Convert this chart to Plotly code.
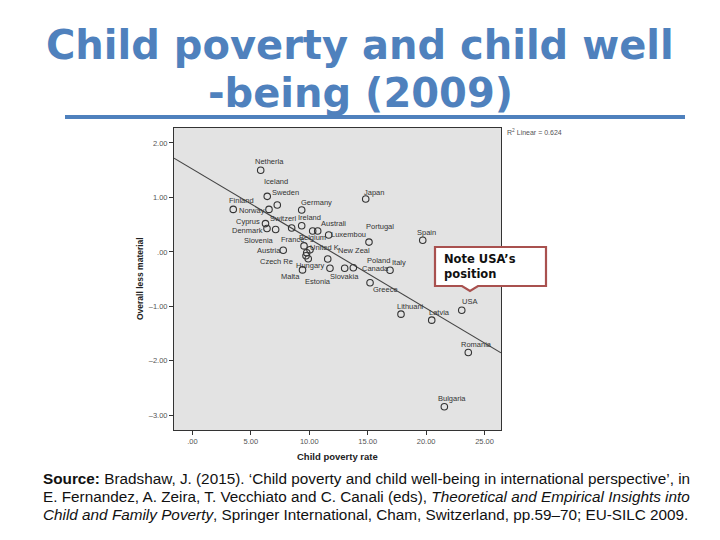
import plotly.graph_objects as go

# ---------------- data ----------------
countries = ["Netherlands", "Iceland", "Sweden", "Finland", "Norway", "Germany", "Japan",
             "Cyprus", "Denmark", "Slovenia", "Switzerland", "Ireland", "Belgium", "Australia",
             "Luxembourg", "Portugal", "Spain", "Austria", "France", "United Kingdom",
             "Czech Republic", "Estonia", "Hungary", "Malta", "New Zealand", "Slovakia",
             "Poland", "Canada", "Italy", "Greece", "Lithuania", "Latvia", "USA", "Romania",
             "Bulgaria"]
point_labels = ["Netherla", "Iceland", "Sweden", "Finland", "Norway", "Germany", "Japan",
                "Cyprus", "Denmark", "Slovenia", "Switzerl", "Ireland", "Belgium", "Australi",
                "Luxembou", "Portugal", "Spain", "Austria", "France", "United K",
                "Czech Re", "Estonia", "Hungary", "Malta", "New Zeal", "Slovakia",
                "Poland", "Canada", "Italy", "Greece", "Lithuani", "Latvia", "USA", "Romania",
                "Bulgaria"]
child_poverty_rate = [5.84, 6.40, 7.26, 3.49, 6.55, 9.35, 14.83,
                      6.25, 6.38, 7.12, 8.49, 9.35, 10.29, 10.72,
                      11.66, 15.11, 19.71, 7.77, 9.55, 10.06,
                      9.78, 9.72, 9.91, 9.42, 11.58, 11.77,
                      13.03, 13.77, 16.91, 15.20, 17.85, 20.48, 23.05, 23.61,
                      21.56]
overall_less_material = [1.50, 1.02, 0.86, 0.78, 0.78, 0.77, 0.97,
                         0.52, 0.43, 0.41, 0.44, 0.48, 0.385, 0.385,
                         0.31, 0.18, 0.215, 0.03, 0.11, 0.04,
                         -0.015, -0.07, -0.125, -0.33, -0.13, -0.30,
                         -0.30, -0.29, -0.336, -0.565, -1.143, -1.253, -1.07, -1.846,
                         -2.844]
fit_intercept = 1.52
fit_slope = -0.1277
r_squared = 0.624

x_tickvals = [0, 5, 10, 15, 20, 25]
x_ticktext = [".00", "5.00", "10.00", "15.00", "20.00", "25.00"]
y_tickvals = [2, 1, 0, -1, -2, -3]
y_ticktext = ["2.00", "1.00", ".00", "\u20131.00", "\u20132.00", "\u20133.00"]

# ---------------- styling / layout helpers ----------------
OFF = 8                                   # page body margin of the html file
W, H = 720 - OFF, 540 - OFF
PL, PR, PT, PB = 174, 501, 128, 430       # plot area in window pixels
x_range = [-1.58, 26.41]
y_range = [-3.27, 2.275]

# label offsets (pixels, right / down) relative to each point
label_offsets = [(9, -9), (9, -15), (8, -13), (8, -9), (-17, 1), (15, -7), (8, -7),
                 (-17, -2), (-19, 2), (-17, 11), (-8, -9), (8, -8), (0, 7), (16, -7),
                 (20, -1), (11, -16), (4, -8), (-14, 0), (-12, -6), (15, -2),
                 (-30, 9), (12, 26), (2, 7), (-12, 7), (26, -8), (15, 8),
                 (34, -8), (22, 1), (9, -8), (15, 7), (9, -8), (8, -8), (8, -9), (8, -8),
                 (8, -8)]


def px(x, y):
    """window pixel position -> paper coordinates"""
    return (x - PL) / (PR - PL), (PB - y) / (PB - PT)


BLUE = "#4F81BD"
SPSS_FONT = "Liberation Sans, Arial, sans-serif"
TITLE_FONT = "DejaVu Sans, Verdana, sans-serif"

fig = go.Figure()

# regression line
line_x = list(x_range)
line_y = [fit_intercept + fit_slope * v for v in line_x]
fig.add_trace(go.Scatter(x=line_x, y=line_y, mode="lines",
                         line=dict(color="#444444", width=1.1),
                         hoverinfo="skip", showlegend=False))

# points
fig.add_trace(go.Scatter(x=child_poverty_rate, y=overall_less_material, mode="markers",
                         marker=dict(symbol="circle-open", size=6.5, color="#333333",
                                     line=dict(color="#333333", width=1.1)),
                         text=countries,
                         hovertemplate="%{text}<br>Child poverty rate: %{x:.2f}"
                                       "<br>Overall less material: %{y:.2f}<extra></extra>",
                         showlegend=False))

annotations = []
for xv, yv, lab, (dx, dy) in zip(child_poverty_rate, overall_less_material,
                                 point_labels, label_offsets):
    annotations.append(dict(x=xv, y=yv, xref="x", yref="y", text=lab, showarrow=False,
                            xshift=dx, yshift=-dy, xanchor="center", yanchor="middle",
                            font=dict(family=SPSS_FONT, size=7.5, color="#333333")))

# title (two lines)
for txt, ty in [("Child poverty and child well", 45), ("-being (2009)", 93)]:
    tx, typ = px(360, ty)
    annotations.append(dict(x=tx, y=typ, xref="paper", yref="paper", text="<b>%s</b>" % txt,
                            showarrow=False, xanchor="center", yanchor="middle",
                            font=dict(family=TITLE_FONT, size=40, color=BLUE)))

# axis titles
ax_, ay_ = px(337, 456)
annotations.append(dict(x=ax_, y=ay_, xref="paper", yref="paper",
                        text="<b>Child poverty rate</b>", showarrow=False,
                        xanchor="center", yanchor="middle",
                        font=dict(family=SPSS_FONT, size=9.5, color="#222222")))
ax_, ay_ = px(140, 279)
annotations.append(dict(x=ax_, y=ay_, xref="paper", yref="paper",
                        text="<b>Overall less material</b>", showarrow=False, textangle=-90,
                        xanchor="center", yanchor="middle",
                        font=dict(family=SPSS_FONT, size=8.5, color="#222222")))

# R squared note
ax_, ay_ = px(505, 132)
annotations.append(dict(x=ax_, y=ay_, xref="paper", yref="paper",
                        text="R<sup>2</sup> Linear = %.3f" % r_squared, showarrow=False,
                        xanchor="left", yanchor="middle",
                        font=dict(family=SPSS_FONT, size=7, color="#555555")))

# callout text
ax_, ay_ = px(442, 266)
annotations.append(dict(x=ax_, y=ay_, xref="paper", yref="paper",
                        text="<b>Note USA\u2019s<br>position</b>", showarrow=False,
                        xanchor="left", yanchor="middle", align="left",
                        font=dict(family=TITLE_FONT, size=11.5, color="#111111")))

# source text
src_lines = [
    "<b>Source:</b> Bradshaw, J. (2015). \u2018Child poverty and child well-being in international perspective\u2019, in",
    "E. Fernandez, A. Zeira, T. Vecchiato and C. Canali (eds), <i>Theoretical and Empirical Insights into</i>",
    "<i>Child and Family Poverty</i>, Springer International, Cham, Switzerland, pp.59\u201370; EU-SILC 2009.",
]
for txt, ly in zip(src_lines, [478, 496, 514]):
    ax_, ay_ = px(41, ly)
    annotations.append(dict(x=ax_, y=ay_, xref="paper", yref="paper", text=txt,
                            showarrow=False, xanchor="left", yanchor="middle", align="left",
                            font=dict(family="Liberation Sans Narrow, Arial Narrow, Liberation Sans, sans-serif",
                                      size=15.3, color="#111111")))

# shapes: title underline and callout outline
shapes = []
x0, y0 = px(65, 117)
x1, y1 = px(685, 117)
shapes.append(dict(type="line", xref="paper", yref="paper", x0=x0, y0=y0, x1=x1, y1=y1,
                   line=dict(color=BLUE, width=4)))

callout_pts = [(435, 247), (546, 247), (546, 286), (478, 286), (470, 291), (462, 286), (435, 286)]
path = ""
for i, (cx, cy) in enumerate(callout_pts):
    pxx, pyy = px(cx, cy)
    path += ("M" if i == 0 else " L") + " %.5f,%.5f" % (pxx, pyy)
path += " Z"
shapes.append(dict(type="path", xref="paper", yref="paper", path=path,
                   fillcolor="white", line=dict(color="#A9514F", width=2.2)))

axis_common = dict(showgrid=False, zeroline=False, showline=True, mirror=True,
                   linecolor="#333333", linewidth=1, ticks="outside", ticklen=4,
                   tickcolor="#333333", tickwidth=1,
                   tickfont=dict(family=SPSS_FONT, size=7.5, color="#555555"))

fig.update_layout(
    width=W, height=H,
    margin=dict(l=PL - OFF, r=720 - PR, t=PT - OFF, b=540 - PB, pad=0),
    paper_bgcolor="white", plot_bgcolor="#E3E3E3",
    xaxis=dict(range=x_range, tickvals=x_tickvals, ticktext=x_ticktext, **axis_common),
    yaxis=dict(range=y_range, tickvals=y_tickvals, ticktext=y_ticktext, **axis_common),
    annotations=annotations, shapes=shapes, showlegend=False,
)

fig.write_html("out.html")
